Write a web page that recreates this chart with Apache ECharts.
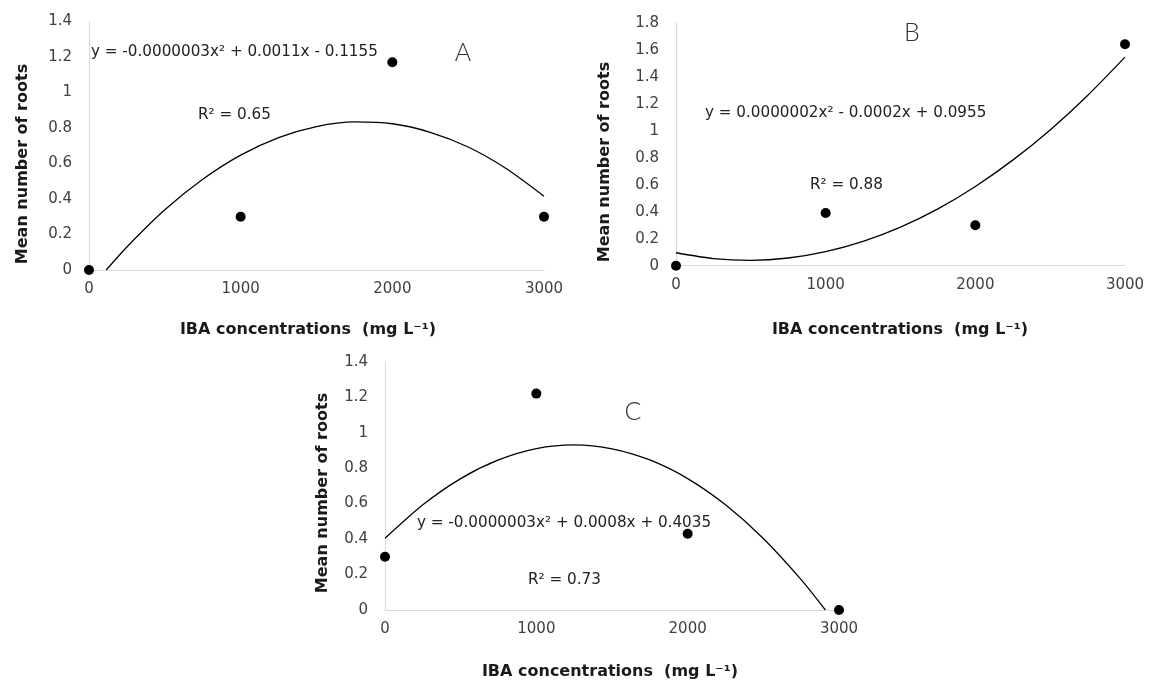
<!DOCTYPE html>
<html>
<head>
<meta charset="utf-8">
<script src="https://cdn.jsdelivr.net/npm/echarts@6/dist/echarts.min.js"></script>
<style>
  html, body { margin: 0; padding: 0; background: #fff; }
  #chart { width: 1153px; height: 684px; }
</style>
</head>
<body>
<div id="chart"></div>
<script>
// IBA doses (mg L-1) and mean number of roots, panels A, B, C
var doses = [0, 1000, 2000, 3000];
var rootsA = [0, 0.3, 1.17, 0.3];
var rootsB = [0, 0.39, 0.3, 1.64];
var rootsC = [0.3, 1.22, 0.43, 0];

// polynomial trendlines
var trendXA = [113, 250, 500, 750, 1000, 1250, 1500, 1750, 2000, 2250, 2500, 2750, 3000];
var trendA = [0, 0.13, 0.339, 0.511, 0.647, 0.746, 0.808, 0.834, 0.824, 0.776, 0.693, 0.572, 0.416];
var trendXB = [0, 250, 500, 750, 1000, 1250, 1500, 1750, 2000, 2250, 2500, 2750, 3000];
var trendB = [0.096, 0.053, 0.04, 0.057, 0.104, 0.18, 0.286, 0.421, 0.587, 0.782, 1.006, 1.261, 1.545];
var trendXC = [0, 250, 500, 750, 1000, 1250, 1500, 1750, 2000, 2250, 2500, 2750, 2910];
var trendC = [0.404, 0.593, 0.741, 0.846, 0.91, 0.931, 0.909, 0.846, 0.741, 0.593, 0.403, 0.171, 0];

var yMaxA = 1.4, yMaxB = 1.8, yMaxC = 1.4;

var eqA = 'y = -0.0000003x² + 0.0011x - 0.1155';
var eqB = 'y = 0.0000002x² - 0.0002x + 0.0955';
var eqC = 'y = -0.0000003x² + 0.0008x + 0.4035';
var r2A = 'R² = 0.65', r2B = 'R² = 0.88', r2C = 'R² = 0.73';
var xTitle = 'IBA concentrations  (mg L⁻¹)';
var yTitle = 'Mean number of roots';

function pairs(xs, ys) {
  return xs.map(function (x, i) { return [x, ys[i]]; });
}

var tickFont = { fontFamily: 'DejaVu Sans', fontSize: 15, color: '#404040' };
var axisLine = { show: true, lineStyle: { color: '#d9d9d9', width: 1 } };

function xAxisFor(idx) {
  return {
    gridIndex: idx, type: 'value', min: 0, max: 3000, interval: 1000,
    axisLine: axisLine, axisTick: { show: false }, splitLine: { show: false },
    axisLabel: Object.assign({ margin: 12, formatter: function (v) { return String(v); } }, tickFont)
  };
}
function yAxisFor(idx, max) {
  return {
    gridIndex: idx, type: 'value', min: 0, max: max, interval: 0.2,
    axisLine: axisLine, axisTick: { show: false }, splitLine: { show: false },
    axisLabel: Object.assign({ margin: 17 }, tickFont)
  };
}
function dots(idx, ys) {
  return {
    type: 'scatter', xAxisIndex: idx, yAxisIndex: idx, data: pairs(doses, ys),
    symbolSize: 10, itemStyle: { color: '#000', opacity: 1 }, z: 3
  };
}
function trend(idx, xs, ys) {
  return {
    type: 'line', xAxisIndex: idx, yAxisIndex: idx, data: pairs(xs, ys),
    smooth: 0.25, showSymbol: false,
    lineStyle: { color: '#000', width: 1.3 }
  };
}
function label(x, y, text, size, extra) {
  return {
    type: 'text', x: x, y: y,
    style: Object.assign({
      text: text, fontFamily: 'DejaVu Sans', fontSize: size, fill: '#222',
      textAlign: 'left', textVerticalAlign: 'middle'
    }, extra || {})
  };
}
function boldTitle(x, y, text, rot) {
  return {
    type: 'text', x: x, y: y, rotation: rot || 0,
    style: {
      text: text, fontFamily: 'DejaVu Sans', fontWeight: 'bold', fontSize: 16,
      fill: '#1a1a1a', textAlign: 'center', textVerticalAlign: 'middle'
    }
  };
}
var letterStyle = { fontFamily: 'Lato', fontWeight: 300, textAlign: 'center', fill: '#333' };

var chart = echarts.init(document.getElementById('chart'));
chart.setOption({
  animation: false,
  grid: [
    { left: 89, top: 21.5, width: 455, height: 248.5 },
    { left: 676, top: 22.7, width: 449, height: 243 },
    { left: 385, top: 361.7, width: 454, height: 248.3 }
  ],
  xAxis: [xAxisFor(0), xAxisFor(1), xAxisFor(2)],
  yAxis: [yAxisFor(0, yMaxA), yAxisFor(1, yMaxB), yAxisFor(2, yMaxC)],
  series: [
    trend(0, trendXA, trendA), dots(0, rootsA),
    trend(1, trendXB, trendB), dots(1, rootsB),
    trend(2, trendXC, trendC), dots(2, rootsC)
  ],
  graphic: [
    label(91, 52, eqA, 15.2),
    label(198, 115, r2A, 15.2),
    label(463, 53, 'A', 25, letterStyle),
    label(705, 113, eqB, 15.2),
    label(810, 185, r2B, 15.2),
    label(912, 33, 'B', 25, letterStyle),
    label(417, 523, eqC, 15.2),
    label(528, 580, r2C, 15.2),
    label(633, 412, 'C', 25, letterStyle),
    boldTitle(308, 330, xTitle),
    boldTitle(900, 330, xTitle),
    boldTitle(610, 672, xTitle),
    boldTitle(23, 164, yTitle, Math.PI / 2),
    boldTitle(605, 162, yTitle, Math.PI / 2),
    boldTitle(323, 493, yTitle, Math.PI / 2)
  ]
});
</script>
</body>
</html>
